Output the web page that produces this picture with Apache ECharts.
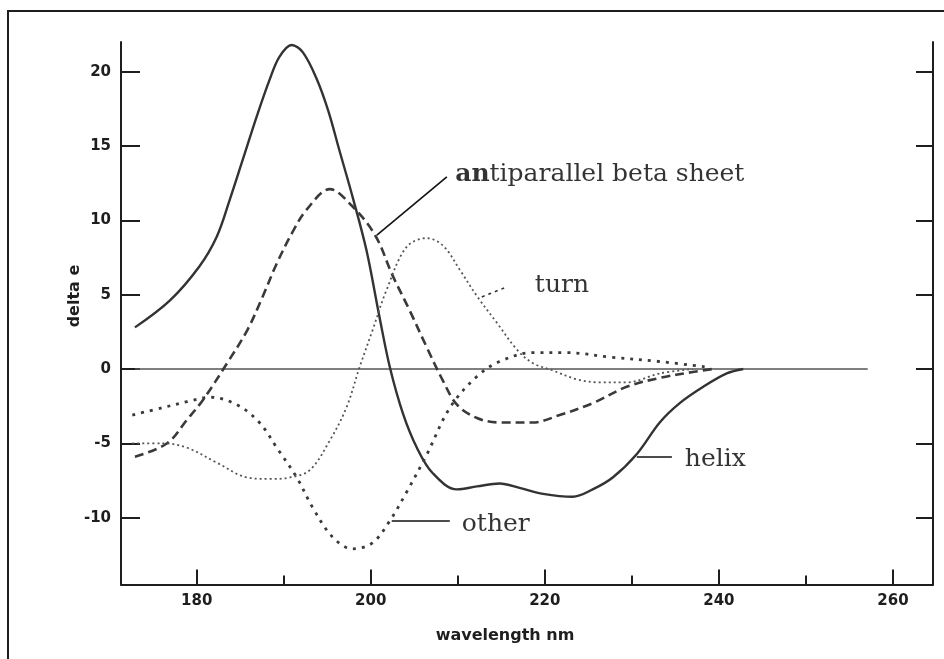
<!DOCTYPE html>
<html>
<head>
<meta charset="utf-8">
<script src="https://cdn.jsdelivr.net/npm/echarts@6/dist/echarts.min.js"></script>
<style>
  html, body { margin: 0; padding: 0; background: #ffffff; }
  #chart { width: 944px; height: 659px; }
</style>
</head>
<body>
<div id="chart"></div>
<script>
// Tick positions
const xTicks = [180, 200, 220, 240, 260];
const xMinorTicks = [190, 210, 230, 250];
const yTicks = [-10, -5, 0, 5, 10, 15, 20];

// CD reference spectra: wavelength (nm) and delta epsilon
const helixNm = [172.9, 176.9, 180.3, 182.3, 183.8, 185.3, 186.9, 188.4, 189.5, 190.9, 192.2, 193.8, 195.1, 196.4, 197.9, 199.5, 201.0, 202.2, 203.7, 205.3, 207.1, 209.9, 212.2, 214.8, 217.1, 219.8, 223.2, 225.5, 227.8, 230.6, 233.2, 235.5, 238.2, 240.9, 242.8];
const helixDe = [2.8, 4.6, 6.9, 8.9, 11.4, 14.1, 17.0, 19.5, 21.0, 21.8, 21.3, 19.5, 17.4, 14.7, 11.6, 8.0, 3.5, 0.1, -3.0, -5.3, -7.0, -8.1, -7.9, -7.7, -8.0, -8.4, -8.6, -8.1, -7.3, -5.7, -3.6, -2.3, -1.2, -0.3, 0.0];

const betaNm = [172.9, 176.6, 178.9, 180.7, 183.5, 185.8, 187.6, 189.2, 191.0, 192.6, 195.3, 197.8, 200.5, 202.5, 204.5, 206.4, 208.3, 209.9, 212.2, 214.8, 218.6, 221.7, 225.5, 229.4, 233.2, 237.0, 239.3];
const betaDe = [-5.9, -5.0, -3.4, -2.1, 0.4, 2.6, 4.9, 7.1, 9.2, 10.7, 12.1, 11.0, 9.0, 6.3, 3.9, 1.5, -0.8, -2.4, -3.3, -3.6, -3.6, -3.1, -2.3, -1.2, -0.6, -0.2, 0.0];

const turnNm = [172.6, 176.1, 178.9, 182.3, 185.8, 188.4, 190.7, 193.0, 195.3, 197.2, 198.7, 200.2, 201.8, 204.1, 206.4, 208.3, 210.2, 212.2, 214.5, 216.8, 218.6, 220.9, 223.7, 226.3, 229.4, 233.2, 237.0];
const turnDe = [-5.0, -5.0, -5.3, -6.3, -7.3, -7.4, -7.3, -6.8, -4.8, -2.6, 0.1, 2.6, 5.3, 8.2, 8.8, 8.3, 6.7, 4.9, 3.1, 1.3, 0.4, -0.1, -0.7, -0.9, -0.9, -0.3, 0.0];

const otherNm = [172.6, 176.1, 178.9, 181.5, 184.6, 187.2, 189.2, 191.5, 193.3, 195.6, 197.9, 200.2, 202.2, 204.1, 206.4, 209.1, 212.2, 214.8, 218.6, 222.5, 227.5, 233.2, 239.0];
const otherDe = [-3.1, -2.6, -2.2, -1.9, -2.4, -3.6, -5.3, -7.3, -9.3, -11.3, -12.1, -11.7, -10.2, -8.3, -5.8, -2.6, -0.5, 0.5, 1.1, 1.1, 0.8, 0.5, 0.1];

const zeroNm = [172.9, 257.1];
const zeroDe = [0, 0];

// Curve labels (data coordinates of text anchor and leader line ends)
const noteNames = ['antiparallel beta sheet', 'turn', 'helix', 'other'];
const noteAnchors = [[209.7, 13.06], [218.85, 5.59], [236.09, -6.12], [210.46, -10.43]];
const leaderFrom = [[200.7, 9.0], [212.76, 4.85], [230.57, -5.92], [202.41, -10.23]];
const leaderTo = [[208.74, 12.92], [215.63, 5.52], [234.6, -5.92], [209.08, -10.23]];

const pairs = (xs, ys) => xs.map((x, i) => [x, ys[i]]);

const ink = '#1e1e1e';
const tickFont = { fontFamily: 'DejaVu Sans', fontWeight: 'bold', fontSize: 15, color: ink };

const chart = echarts.init(document.getElementById('chart'), null, { renderer: 'canvas' });

function curve(name, xs, ys, style) {
  return {
    name, type: 'line', data: pairs(xs, ys), smooth: 0.35, showSymbol: false, symbol: 'none',
    lineStyle: style, silent: true, z: 3
  };
}

function leader(i, style) {
  return {
    type: 'line', data: [leaderFrom[i], leaderTo[i]], showSymbol: false, symbol: 'none',
    lineStyle: style, silent: true, z: 4
  };
}

const option = {
  animation: false,
  backgroundColor: '#ffffff',
  grid: { left: 121, right: 11, top: 42, bottom: 74.5 },
  xAxis: [
    {
      type: 'value', min: 171.3, max: 264.6, position: 'bottom',
      axisLine: { show: true, onZero: false, lineStyle: { color: ink, width: 2 } },
      axisTick: { show: true, inside: true, length: 15, customValues: xTicks, lineStyle: { color: ink, width: 2 } },
      axisLabel: Object.assign({ customValues: xTicks, margin: 9 }, tickFont),
      splitLine: { show: false }
    },
    {
      type: 'value', min: 171.3, max: 264.6, position: 'bottom',
      axisLine: { show: false, onZero: false },
      axisTick: { show: true, inside: true, length: 9, customValues: xMinorTicks, lineStyle: { color: ink, width: 2 } },
      axisLabel: { show: false },
      splitLine: { show: false }
    }
  ],
  yAxis: [
    {
      type: 'value', min: -14.5, max: 22, position: 'left',
      axisLine: { show: true, onZero: false, lineStyle: { color: ink, width: 2 } },
      axisTick: { show: true, inside: true, length: 19, customValues: yTicks, lineStyle: { color: ink, width: 2 } },
      axisLabel: Object.assign({ customValues: yTicks, margin: 10 }, tickFont),
      splitLine: { show: false }
    },
    {
      type: 'value', min: -14.5, max: 22, position: 'right',
      axisLine: { show: true, onZero: false, lineStyle: { color: ink, width: 2 } },
      axisTick: { show: true, inside: true, length: 17, customValues: yTicks, lineStyle: { color: ink, width: 2 } },
      axisLabel: { show: false },
      splitLine: { show: false }
    }
  ],
  series: [
    { type: 'line', data: pairs(zeroNm, zeroDe), showSymbol: false, symbol: 'none', silent: true, z: 2,
      lineStyle: { color: '#555555', width: 1.6 } },
    curve('helix', helixNm, helixDe, { color: '#333333', width: 2.4 }),
    curve('antiparallel beta sheet', betaNm, betaDe, { color: '#3a3a3a', width: 2.6, type: [9, 5] }),
    curve('turn', turnNm, turnDe, { color: '#555555', width: 1.8, type: [2, 3] }),
    curve('other', otherNm, otherDe, { color: '#3a3a3a', width: 2.8, type: [3, 6] }),
    leader(0, { color: '#111', width: 1.6 }),
    leader(1, { color: '#333', width: 1.6, type: [3, 4] }),
    leader(2, { color: '#111', width: 1.6 }),
    leader(3, { color: '#111', width: 1.6 }),
    {
      type: 'scatter', symbolSize: 0, silent: true, z: 5,
      data: noteNames.map((n, i) => ({ name: n, value: noteAnchors[i] })),
      label: {
        show: true, position: 'right', distance: 0,
        formatter: p => p.name === 'antiparallel beta sheet' ? '{b|an}tiparallel beta sheet' : p.name,
        fontFamily: 'DejaVu Serif', fontSize: 25, color: '#000000',
        rich: { b: { fontFamily: 'DejaVu Serif', fontSize: 25, fontWeight: 'bold', color: '#000000' } }
      }
    }
  ],
  graphic: [
    { type: 'rect', shape: { x: 8, y: 11, width: 1000, height: 700 }, style: { fill: null, stroke: ink, lineWidth: 2 }, silent: true },
    { type: 'text', x: 75, y: 296, rotation: Math.PI / 2,
      style: { text: 'delta e', align: 'center', verticalAlign: 'middle', font: 'bold 16px "DejaVu Sans"', fill: ink } },
    { type: 'text', x: 505, y: 636,
      style: { text: 'wavelength nm', align: 'center', verticalAlign: 'middle', font: 'bold 16px "DejaVu Sans"', fill: ink } }
  ]
};

chart.setOption(option);
</script>
</body>
</html>
